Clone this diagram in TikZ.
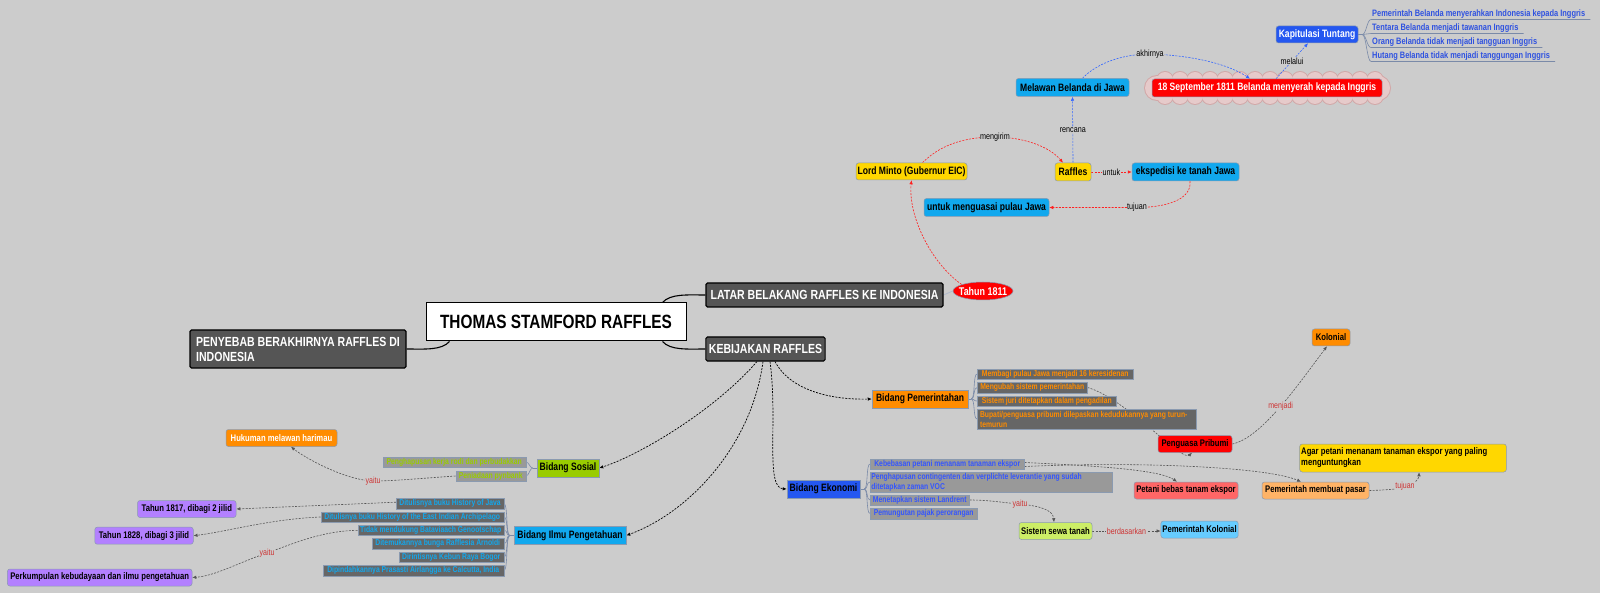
\documentclass[tikz,border=0pt]{standalone}
\usepackage{fontspec}
\setmainfont{Liberation Sans}[FakeStretch=0.8]
\usetikzlibrary{arrows.meta,shapes.geometric,calc}
\pgfdeclarelayer{bglayer}
\pgfdeclarelayer{edgelayer}
\pgfsetlayers{bglayer,edgelayer,main}
\definecolor{bgc}{HTML}{CCCCCC}
\definecolor{edgec}{HTML}{8A9AB0}
\definecolor{darkc}{HTML}{555555}
\definecolor{goldc}{HTML}{FFD700}
\definecolor{ltblue}{HTML}{11A8EE}
\definecolor{bluec}{HTML}{2457F0}
\definecolor{redc}{HTML}{FF0000}
\definecolor{orangec}{HTML}{FF8C00}
\definecolor{limec}{HTML}{99CC00}
\definecolor{lgreen}{HTML}{CCEE66}
\definecolor{salmonc}{HTML}{FF6666}
\definecolor{lorange}{HTML}{FFB366}
\definecolor{skyc}{HTML}{66CCFF}
\definecolor{purplec}{HTML}{B380FF}
\definecolor{itemdk}{HTML}{666666}
\definecolor{itemlt}{HTML}{999999}
\definecolor{txtsky}{HTML}{11A8EE}
\definecolor{txtblue}{HTML}{3355FF}
\definecolor{redline}{HTML}{FF2020}
\definecolor{blueline}{HTML}{3366FF}
\definecolor{grayline}{HTML}{555555}
\definecolor{lblred}{HTML}{CC3333}
\definecolor{kaptext}{HTML}{2F52E0}
\definecolor{brkc}{HTML}{7A8AA8}
\definecolor{cloudc}{HTML}{E6CACA}
\definecolor{cloudb}{HTML}{D2A8A8}
\tikzset{
  base/.style={font=\bfseries\fontsize{10.7}{12}\selectfont, inner sep=1.5pt, draw=edgec, line width=0.5pt, minimum height=17pt, text=black},
  rbox/.style={base, rounded corners=2.5pt},
  leaf/.style={rbox, font=\bfseries\fontsize{9.6}{11}\selectfont},
  sbox/.style={base},
  itembox/.style={font=\bfseries\fontsize{8.5}{10}\selectfont, inner sep=1pt, draw=edgec, line width=0.5pt, minimum height=10.5pt},
  darkbox/.style={fill=darkc, draw=black, line width=1.1pt, text=white, rounded corners=1.5pt, font=\bfseries\fontsize{13.2}{15}\selectfont, inner sep=3pt},
  klist/.style={font=\bfseries\fontsize{9.3}{10}\selectfont, text=kaptext, inner sep=1pt},
  lbl/.style={fill=bgc, inner sep=0.6pt, font=\fontsize{9}{9}\selectfont, text=black},
  rlbl/.style={fill=bgc, inner sep=0.6pt, font=\fontsize{8.8}{9}\selectfont, text=lblred},
  tip/.style={-{Latex[length=4pt,width=3.5pt]}},
  dsh/.style={dash pattern=on 2pt off 1.3pt, line width=0.6pt},
  redarr/.style={dsh, draw=redline, tip},
  bluearr/.style={dsh, draw=blueline, tip},
  blkarr/.style={dsh, draw=black, line width=0.7pt, tip},
  grayarr/.style={dsh, draw=grayline, tip},
  brk/.style={draw=brkc, line width=0.6pt},
  mainline/.style={draw=black, line width=1.1pt}
}
\begin{document}
\begin{tikzpicture}[x=1pt,y=-1pt]
\begin{pgfonlayer}{bglayer}
\fill[bgc] (0,0) rectangle (1600,593);
% cloud behind the 18 September node
\foreach \x in {1165,1180,...,1375} {
  \fill[cloudb] (\x,80) circle (9pt);
  \fill[cloudb] (\x,96) circle (9pt);
}
\fill[cloudb] (1157,88) circle (13pt);
\fill[cloudb] (1378,88) circle (13pt);
\foreach \x in {1165,1180,...,1375} {
  \fill[cloudc] (\x,80) circle (8pt);
  \fill[cloudc] (\x,96) circle (8pt);
}
\fill[cloudc] (1157,88) circle (12pt);
\fill[cloudc] (1378,88) circle (12pt);
\fill[cloudc] (1157,80) rectangle (1378,96);
\end{pgfonlayer}
\path[use as bounding box] (0,0) rectangle (1600,593);

% ---------- central ----------
\node[draw=black, line width=1pt, fill=white, minimum width=260pt, minimum height=38pt, inner sep=2pt,
      font=\bfseries\fontsize{19.2}{21}\selectfont] (thomas) at (556,322) {THOMAS STAMFORD RAFFLES};
\node[darkbox, minimum width=237pt, minimum height=24pt] (latar) at (824.5,295) {LATAR BELAKANG RAFFLES KE INDONESIA};
\node[darkbox, minimum width=119pt, minimum height=24pt] (kebijakan) at (765.5,349) {KEBIJAKAN RAFFLES};
\node[darkbox, minimum width=216pt, minimum height=38pt, align=left] (penyebab) at (298,349) {PENYEBAB BERAKHIRNYA RAFFLES DI\\INDONESIA\hphantom{ BERAKHIRNYA RAFFLES DI}};
\node[ellipse, fill=redc, draw=edgec, line width=0.5pt, minimum width=60pt, minimum height=18pt, inner xsep=-4.5pt, inner ysep=0pt,
      text=white, font=\bfseries\fontsize{11.2}{12}\selectfont] (tahun) at (983,291) {Tahun 1811};

% ---------- upper ----------
\node[rbox, fill=goldc, minimum width=111pt] (minto) at (911.5,171.5) {Lord Minto (Gubernur EIC)};
\node[rbox, fill=goldc, minimum width=36pt, minimum height=18pt] (raffles) at (1073,172) {Raffles};
\node[rbox, fill=ltblue, minimum width=107pt, minimum height=18pt] (ekspedisi) at (1185.5,172) {ekspedisi ke tanah Jawa};
\node[rbox, fill=ltblue, minimum width=125pt, minimum height=18pt] (menguasai) at (986.5,207.5) {untuk menguasai pulau Jawa};
\node[rbox, fill=ltblue, minimum width=113pt, minimum height=18pt] (melawan) at (1072.5,87.5) {Melawan Belanda di Jawa};
\node[rbox, fill=redc, text=white, minimum width=230pt, minimum height=18pt] (sept) at (1267,88) {18 September 1811 Belanda menyerah kepada Inggris};
\node[rbox, fill=bluec, text=white, minimum width=82pt] (kapit) at (1317,34.5) {Kapitulasi Tuntang};
\node[klist, anchor=south west] (k1) at (1371,19.5) {Pemerintah Belanda menyerahkan Indonesia kepada Inggris};
\node[klist, anchor=south west] (k2) at (1371,33.5) {Tentara Belanda menjadi tawanan Inggris};
\node[klist, anchor=south west] (k3) at (1371,47.5) {Orang Belanda tidak menjadi tangguan Inggris};
\node[klist, anchor=south west] (k4) at (1371,61.5) {Hutang Belanda tidak menjadi tanggungan Inggris};

% ---------- Pemerintahan ----------
\node[sbox, fill=orangec, minimum width=96pt, minimum height=18pt] (bidpem) at (920,399) {Bidang Pemerintahan};
\node[itembox, fill=itemdk, text=orangec, anchor=west, minimum width=156pt] (p1) at (977,374) {Membagi pulau Jawa menjadi 16 keresidenan};
\node[itembox, fill=itemdk, text=orangec, anchor=west, minimum width=110pt] (p2) at (977,387.5) {Mengubah sistem pemerintahan};
\node[itembox, fill=itemdk, text=orangec, anchor=west, minimum width=139pt] (p3) at (977,401) {Sistem juri ditetapkan dalam pengadilan};
\node[itembox, fill=itemdk, text=orangec, anchor=west, minimum width=219pt, minimum height=20pt, align=left] (p4) at (977,419) {Bupati/penguasa pribumi dilepaskan kedudukannya yang turun-\\temurun\hphantom{/penguasa pribumi dilepaskan kedudukannya yang turun-}};
\node[leaf, fill=redc, minimum width=74pt] (penguasa) at (1195,444) {Penguasa Pribumi};
\node[leaf, fill=orangec, minimum width=38pt] (kolonial) at (1331,337.5) {Kolonial};
\node[leaf, fill=goldc, minimum width=194pt, minimum height=28pt, align=left] (agar) at (1403,458) {Agar petani menanam tanaman ekspor yang paling\\menguntungkan\hphantom{ menanam tanaman ekspor yang paling}};
\node[leaf, fill=lorange, minimum width=107pt] (pasar) at (1315.5,490.5) {Pemerintah membuat pasar};
\node[leaf, fill=salmonc, minimum width=104pt] (petani) at (1186,490.5) {Petani bebas tanam ekspor};

% ---------- Ekonomi ----------
\node[sbox, fill=bluec, minimum width=73pt, minimum height=18pt] (bideko) at (823.5,489) {Bidang Ekonomi};
\node[itembox, fill=itemlt, text=txtblue, anchor=west, minimum width=154pt] (e1) at (870,464) {Kebebasan petani menanam tanaman ekspor};
\node[itembox, fill=itemlt, text=txtblue, anchor=west, minimum width=218pt, minimum height=20pt, align=left] (e2) at (870,482) {Penghapusan contingenten dan verplichte leverantie yang sudah\\ditetapkan zaman VOC\hphantom{ contingenten dan verplichte leverantie yang sudah}};
\node[itembox, fill=itemlt, text=txtblue, anchor=west, minimum width=99pt] (e3) at (870,500) {Menetapkan sistem Landrent};
\node[itembox, fill=itemlt, text=txtblue, anchor=west, minimum width=107pt] (e4) at (870,513.5) {Pemungutan pajak perorangan};
\node[leaf, fill=lgreen, minimum width=73pt] (sewa) at (1055.5,531) {Sistem sewa tanah};
\node[leaf, fill=skyc, minimum width=77pt] (pemkol) at (1199.5,529.5) {Pemerintah Kolonial};

% ---------- Sosial ----------
\node[sbox, fill=limec, minimum width=62pt, minimum height=18pt] (bidsos) at (568,468) {Bidang Sosial};
\node[itembox, fill=itemlt, text=limec, anchor=east, minimum width=143pt] (s1) at (526,462) {Penghapusan kerja rodi dan perbudakkan};
\node[itembox, fill=itemlt, text=limec, anchor=east, minimum width=70pt] (s2) at (526,476) {Peniadaan pynbank};
\node[leaf, fill=orangec, text=white, minimum width=111pt] (hukuman) at (281.5,438) {Hukuman melawan harimau};

% ---------- Ilmu ----------
\node[sbox, fill=ltblue, minimum width=112pt, minimum height=18pt] (bidilmu) at (570,535.5) {Bidang Ilmu Pengetahuan};
\node[itembox, fill=itemdk, text=txtsky, anchor=east, minimum width=107.5pt] (i1) at (504,503.7) {Ditulisnya buku History of Java};
\node[itembox, fill=itemdk, text=txtsky, anchor=east, minimum width=183pt] (i2) at (504,517) {Ditulisnya buku History of the East Indian Archipelago};
\node[itembox, fill=itemdk, text=txtsky, anchor=east, minimum width=146pt] (i3) at (504,530.3) {Tidak mendukung Bataviaach Genootschap};
\node[itembox, fill=itemdk, text=txtsky, anchor=east, minimum width=132pt] (i4) at (504,543.7) {Ditemukannya bunga Rafflesia Arnoldi};
\node[itembox, fill=itemdk, text=txtsky, anchor=east, minimum width=105pt] (i5) at (504,557) {Dirintisnya Kebun Raya Bogor};
\node[itembox, fill=itemdk, text=txtsky, anchor=east, minimum width=181pt] (i6) at (504,570.5) {Dipindahkannya Prasasti Airlangga ke Calcutta, India};
\node[leaf, fill=purplec, minimum width=98.5pt] (t1817) at (186.8,509) {Tahun 1817, dibagi 2 jilid};
\node[leaf, fill=purplec, minimum width=98.5pt] (t1828) at (144,535.7) {Tahun 1828, dibagi 3 jilid};
\node[leaf, fill=purplec, minimum width=184.6pt] (perkumpulan) at (99.7,577.5) {Perkumpulan kebudayaan dan ilmu pengetahuan};

% ================= edges =================
\begin{pgfonlayer}{edgelayer}
% main solid branches
\draw[mainline] ([xshift=-24pt]thomas.north east) .. controls +(8,-9) and +(-18,0) .. (latar.west);
\draw[mainline] ([xshift=-24pt]thomas.south east) .. controls +(8,9) and +(-18,0) .. (kebijakan.west);
\draw[mainline] ([xshift=24pt]thomas.south west) .. controls +(-8,9) and +(18,0) .. (penyebab.east);
\draw[draw=brkc!60!white, line width=0.8pt] (latar.east) -- (tahun.west);

% upper section
\draw[redarr] (tahun.north west) .. controls (930,262) and (908,215) .. (minto.south);
\draw[redarr] ([xshift=11pt]minto.north) .. controls (945,140) and (975,137) .. (995,137) node[lbl]{mengirim}
   .. controls (1020,137) and (1048,145) .. ([xshift=-10pt]raffles.north);
\draw[bluearr] (raffles.north) -- node[lbl]{rencana} (melawan.south);
\draw[redarr] (raffles.east) -- node[lbl]{untuk} (ekspedisi.east -| ekspedisi.west);
\draw[redarr] ([xshift=4.5pt]ekspedisi.south) .. controls (1192,200) and (1165,207.5) .. (1137,207.5) node[lbl]{tujuan} -- (menguasai.east);
\draw[bluearr] ([xshift=10pt]melawan.north) .. controls (1098,62) and (1125,54) .. (1150,54) node[lbl]{akhirnya}
   .. controls (1185,55) and (1225,62) .. ([xshift=-17pt]sept.north);
\draw[bluearr] ([xshift=9pt]sept.north) -- node[lbl]{melalui} ([xshift=-9pt]kapit.south);
% Kapitulasi bracket
\draw[brk] (kapit.east) -- ++(4,0) coordinate (kj);
\draw[brk] (kj) .. controls +(4,0) and +(-4,0) .. (k1.south west) -- ([xshift=4pt]k1.south east);
\draw[brk] (kj) .. controls +(4,0) and +(-4,0) .. (k2.south west) -- ([xshift=4pt]k2.south east);
\draw[brk] (kj) .. controls +(4,0) and +(-4,0) .. (k3.south west) -- ([xshift=4pt]k3.south east);
\draw[brk] (kj) .. controls +(4,0) and +(-4,0) .. (k4.south west) -- ([xshift=4pt]k4.south east);

% KEBIJAKAN branches
\draw[blkarr] ([xshift=9.5pt]kebijakan.south) .. controls (790,390) and (830,400) .. (bidpem.west);
\draw[blkarr] ([xshift=-8.5pt]kebijakan.south) .. controls (715,410) and (640,455) .. (bidsos.east);
\draw[blkarr] ([xshift=4.5pt]kebijakan.south) .. controls (778,420) and (765,488) .. (bideko.west);
\draw[blkarr] ([xshift=-2.5pt]kebijakan.south) .. controls (752,445) and (690,512) .. (bidilmu.east);

% Pemerintahan bracket + links
\draw[brk] (bidpem.east) -- ++(3,0) coordinate (pj);
\foreach \n in {p1,p2,p3,p4} {\draw[brk] (pj) .. controls +(4,0) and +(-4,0) .. (\n.west);}
\draw[grayarr] (p2.east) .. controls (1125,398) and (1182,462) .. ([xshift=-3pt]penguasa.south);
\draw[grayarr] (penguasa.east) .. controls (1262,438) and (1300,382) .. ([xshift=-4pt]kolonial.south)
   node[rlbl, pos=0.5]{menjadi};
\draw[grayarr] (pasar.east) .. controls (1390,490) and (1410,488) .. (1405,486) node[rlbl]{tujuan}
   .. controls (1416,484) and (1419,478) .. ([xshift=16pt]agar.south);

% Ekonomi bracket + links
\draw[brk] (bideko.east) -- ++(4,0) coordinate (ej);
\foreach \n in {e1,e2,e3,e4} {\draw[brk] (ej) .. controls +(4,0) and +(-4,0) .. (\n.west);}
\draw[grayarr] ([yshift=-2.5pt]e1.east) .. controls (1150,461) and (1270,468) .. ([xshift=-14.5pt]pasar.north);
\draw[grayarr] ([yshift=1.5pt]e1.east) .. controls (1100,466) and (1160,470) .. ([xshift=-9pt]petani.north);
\draw[grayarr] (e3.east) .. controls (990,500) and (1005,503) .. (1020,504) node[rlbl]{yaitu}
   .. controls (1040,506) and (1053,510) .. ([xshift=-1.5pt]sewa.north);
\draw[grayarr] (sewa.east) -- node[rlbl]{berdasarkan} (pemkol.west |- sewa.east);

% Sosial bracket + links
\draw[brk] (bidsos.west) -- ++(-4,0) coordinate (sj);
\foreach \n in {s1,s2} {\draw[brk] (sj) .. controls +(-3,0) and +(3,0) .. (\n.east);}
\draw[grayarr] (s2.west) .. controls (425,478) and (395,481) .. (373,481) node[rlbl]{yaitu}
   .. controls (345,480) and (305,458) .. ([xshift=9.5pt]hukuman.south);

% Ilmu bracket + links
\draw[brk] (bidilmu.west) -- ++(-4,0) coordinate (ij);
\foreach \n in {i1,i2,i3,i4,i5,i6} {\draw[brk] (ij) .. controls +(-4,0) and +(4,0) .. (\n.east);}
\draw[grayarr] ([yshift=1.5pt]i1.west) -- (t1817.east);
\draw[grayarr] (i2.west) .. controls (270,519) and (225,532) .. (t1828.east);
\draw[grayarr] (i3.west) .. controls (320,531) and (290,545) .. (267,553) node[rlbl]{yaitu}
   .. controls (240,562) and (215,576) .. (perkumpulan.east);
\end{pgfonlayer}
\end{tikzpicture}
\end{document}
